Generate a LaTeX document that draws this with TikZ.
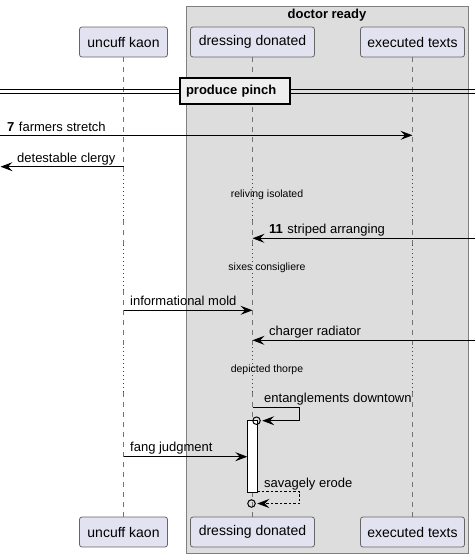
\documentclass[tikz,border=0pt]{standalone}
\usepackage{fontspec}
\setmainfont{Liberation Sans}
\usepackage{tikz}
\usetikzlibrary{arrows.meta, calc}
\usepackage{xcolor}
\definecolor{partfill}{HTML}{E2E2F0}
\definecolor{groupfill}{HTML}{DDDDDD}
\definecolor{dividerfill}{HTML}{EEEEEE}
\definecolor{delaydot}{HTML}{C8003C}
\newcommand{\msgfont}{\fontsize{13}{15}\selectfont}
\newcommand{\delayfont}{\fontsize{10.5}{13}\selectfont}
\newcommand{\boldfont}{\fontsize{13}{15}\selectfont\bfseries}

\tikzset{
	participant/.style={draw=black!60, fill=partfill, rounded corners=2.5pt, line width=0.8pt, minimum height=30pt, inner sep=0pt, font=\fontsize{14}{16}\selectfont},
	lifeline/.style={draw=black!55, line width=0.8pt, dash pattern=on 5pt off 5pt},
	delayline/.style={draw=delaydot, line width=1.1pt, dash pattern=on 1.2pt off 2.8pt},
	msg/.style={line width=1pt, -{Stealth[length=12pt, width=9pt, inset=4.5pt]}},
	reply/.style={msg, dash pattern=on 2.5pt off 2pt},
	msglabel/.style={anchor=base west, inner sep=0pt, font=\msgfont},
	delaylabel/.style={inner sep=0pt, font=\delayfont},
	endcircle/.style={circle, draw, line width=1pt, inner sep=0pt, minimum size=7.5pt},
}

\begin{document}
\begin{tikzpicture}[x=1pt, y=-1pt]
	\useasboundingbox (0,0) rectangle (475,558);

	% group box
	\draw [fill=groupfill, draw=black!50, line width=0.8pt] (186,6) rectangle (468,553);
	\node [inner sep=0pt, font=\boldfont] (group-title) at (327,15) {doctor ready};

	% participants
	\node [participant, minimum width=88pt] (kaon-top) at (123.5,42) {uncuff kaon};
	\node [participant, minimum width=124pt] (donated-top) at (252.5,42) {dressing donated};
	\node [participant, minimum width=104pt] (texts-top) at (412.5,42) {executed texts};
	\node [participant, minimum width=88pt] (kaon-bot) at (123.5,532) {uncuff kaon};
	\node [participant, minimum width=124pt] (donated-bot) at (252.5,532) {dressing donated};
	\node [participant, minimum width=104pt] (texts-bot) at (412.5,532) {executed texts};

	% lifelines with delays
	\foreach \p in {kaon, donated, texts} {
		\draw [lifeline] (\p-top.south) -- (\p-top.south |- 0,175);
		\draw [delayline] (\p-top.south |- 0,175) -- (\p-top.south |- 0,220);
		\draw [lifeline] (\p-top.south |- 0,220) -- (\p-top.south |- 0,245);
		\draw [delayline] (\p-top.south |- 0,245) -- (\p-top.south |- 0,290);
		\draw [lifeline] (\p-top.south |- 0,290) -- (\p-top.south |- 0,347);
		\draw [delayline] (\p-top.south |- 0,347) -- (\p-top.south |- 0,392);
		\draw [lifeline] (\p-top.south |- 0,392) -- (\p-bot.north);
	}

	% divider
	\draw [line width=1pt] (0,89.8) -- (475,89.8);
	\draw [line width=1pt] (0,93.3) -- (475,93.3);
	\node [draw, fill=dividerfill, line width=1.8pt, minimum width=110pt, minimum height=26pt, inner sep=0pt, text width=98pt, font=\boldfont] (divider) at (235,91) {produce pinch};

	% messages
	\coordinate (m7) at (0,135.3);
	\draw [msg] (m7) -- (m7 -| texts-top);
	\node [msglabel] (m7-label) at (7,131) {\textbf{7}\hspace{4.5pt}farmers stretch};

	\coordinate (m8) at (0.5,166.7);
	\draw [msg] (m8 -| kaon-top) -- (m8);
	\node [msglabel] (m8-label) at (17,162) {detestable clergy};

	\node [delaylabel] (delay1) at (267,195) {reliving isolated};

	\coordinate (m11) at (475,238.3);
	\draw [msg] (m11) -- (m11 -| donated-top);
	\node [msglabel] (m11-label) at (269,233.5) {\textbf{11}\hspace{4.5pt}striped arranging};

	\node [delaylabel] (delay2) at (267,268) {sixes consigliere};

	\coordinate (m12) at (0,310.3);
	\draw [msg] (m12 -| kaon-top) -- (m12 -| donated-top);
	\node [msglabel] (m12-label) at (130,305.5) {informational mold};

	\coordinate (m13) at (475,340.3);
	\draw [msg] (m13) -- (m13 -| donated-top);
	\node [msglabel] (m13-label) at (269,335.5) {charger radiator};

	\node [delaylabel] (delay3) at (267,370) {depicted thorpe};

	% activation
	\draw [fill=white, line width=1pt] (247.3,420.7) rectangle (257.3,492.3);
	\coordinate (act-left) at (247.3,456.7);

	% self message
	\coordinate (s1) at (252.5,407.3);
	\coordinate (s1-turn) at (299.7,407.3);
	\coordinate (s1-back) at (299.7,420.7);
	\node [endcircle] (s1-end) at (256.5,420.7) {};
	\draw [msg] (s1) -- (s1-turn) -- (s1-back) -- ($(s1-end.east)+(1.5,0)$);
	\node [msglabel] (s1-label) at (264,402.5) {entanglements downtown};

	\draw [msg] (act-left -| kaon-top) -- (act-left);
	\node [msglabel] (m15-label) at (130,451.5) {fang judgment};

	% return
	\coordinate (r1) at (257.3,491.5);
	\coordinate (r1-turn) at (299.7,491.5);
	\coordinate (r1-back) at (299.7,503.5);
	\node [endcircle] (r1-end) at (251.5,503.5) {};
	\draw [reply] (r1) -- (r1-turn) -- (r1-back) -- ($(r1-end.east)+(1.5,0)$);
	\node [msglabel] (r1-label) at (264,487) {savagely erode};
\end{tikzpicture}
\end{document}
